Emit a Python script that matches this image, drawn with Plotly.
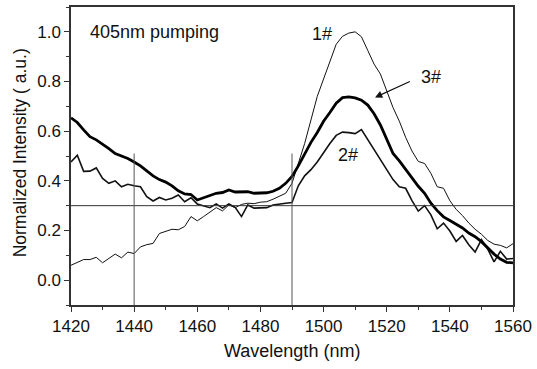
import plotly.graph_objects as go

wavelength = list(range(1420, 1562, 2))

s1 = [0.060, 0.070, 0.083, 0.083, 0.092, 0.070, 0.088, 0.105, 0.090, 0.113,
      0.107, 0.134, 0.143, 0.148, 0.188, 0.196, 0.205, 0.203, 0.216, 0.256,
      0.239, 0.256, 0.273, 0.292, 0.279, 0.303, 0.292, 0.305, 0.310, 0.308,
      0.314, 0.316, 0.326, 0.338, 0.350, 0.390, 0.470, 0.550, 0.645, 0.740,
      0.810, 0.880, 0.950, 0.982, 0.995, 1.000, 0.980, 0.925, 0.870, 0.830,
      0.760, 0.695, 0.640, 0.575, 0.520, 0.478, 0.470, 0.430, 0.376, 0.370,
      0.320, 0.285, 0.260, 0.230, 0.205, 0.185, 0.160, 0.145, 0.140, 0.130,
      0.147]

s2 = [0.476, 0.503, 0.438, 0.439, 0.452, 0.410, 0.390, 0.400, 0.376, 0.386,
      0.380, 0.376, 0.336, 0.319, 0.333, 0.323, 0.330, 0.343, 0.316, 0.332,
      0.307, 0.300, 0.292, 0.307, 0.290, 0.307, 0.293, 0.256, 0.303, 0.290,
      0.290, 0.292, 0.303, 0.308, 0.310, 0.313, 0.380, 0.420, 0.445, 0.476,
      0.515, 0.550, 0.583, 0.596, 0.594, 0.590, 0.606, 0.565, 0.523, 0.485,
      0.443, 0.405, 0.376, 0.370, 0.320, 0.278, 0.300, 0.263, 0.207, 0.230,
      0.198, 0.156, 0.180, 0.143, 0.113, 0.163, 0.125, 0.074, 0.116, 0.085,
      0.087]

s3 = [0.654, 0.635, 0.605, 0.578, 0.565, 0.548, 0.530, 0.510, 0.500, 0.490,
      0.476, 0.460, 0.440, 0.420, 0.405, 0.395, 0.380, 0.360, 0.347, 0.345,
      0.323, 0.332, 0.342, 0.350, 0.353, 0.363, 0.355, 0.357, 0.356, 0.350,
      0.352, 0.352, 0.358, 0.370, 0.390, 0.418, 0.460, 0.510, 0.555, 0.595,
      0.640, 0.675, 0.713, 0.735, 0.738, 0.734, 0.725, 0.705, 0.670, 0.625,
      0.570, 0.510, 0.480, 0.445, 0.410, 0.378, 0.350, 0.310, 0.280, 0.255,
      0.240, 0.225, 0.210, 0.190, 0.175, 0.155, 0.130, 0.105, 0.085, 0.072,
      0.070]

hline_y = 0.3
vlines_x = [1440, 1490]
vline_top = 0.51

FONT = "Liberation Sans, Arial, sans-serif"

fig = go.Figure()
fig.add_trace(go.Scatter(x=wavelength, y=s1, mode="lines",
                         line=dict(color="#111", width=1), name="1#"))
fig.add_trace(go.Scatter(x=wavelength, y=s2, mode="lines",
                         line=dict(color="#111", width=1.6), name="2#"))
fig.add_trace(go.Scatter(x=wavelength, y=s3, mode="lines",
                         line=dict(color="#000", width=2.8), name="3#"))

fig.add_shape(type="line", xref="x", yref="y", x0=1420, x1=1560,
              y0=hline_y, y1=hline_y, line=dict(color="#333", width=1))
for vx in vlines_x:
    fig.add_shape(type="line", xref="x", yref="y", x0=vx, x1=vx,
                  y0=-0.1, y1=vline_top, line=dict(color="#555", width=1))

anns = [
    dict(x=1446.4, y=1.0, text="405nm pumping", showarrow=False,
         xref="x", yref="y", font=dict(size=18)),
    dict(x=1499.6, y=0.99, text="1#", showarrow=False, xref="x", yref="y",
         font=dict(size=18)),
    dict(x=1507.8, y=0.503, text="2#", showarrow=False, xref="x", yref="y",
         font=dict(size=18)),
    dict(x=1534.1, y=0.817, text="3#", showarrow=False, xref="x", yref="y",
         font=dict(size=18)),
    dict(x=1516.3, y=0.736, ax=1527.8, ay=0.803, xref="x", yref="y",
         axref="x", ayref="y", text="", showarrow=True, arrowhead=2,
         arrowsize=1.2, arrowwidth=1.2, arrowcolor="#111"),
    dict(x=0.5, y=-0.155, xref="paper", yref="paper", text="Wavelength (nm)",
         xanchor="center", yanchor="middle",
         showarrow=False, font=dict(size=18)),
    dict(x=-0.1146, y=0.51, xref="paper", yref="paper",
         text="Normalized Intensity ( a.u.)", textangle=-90,
         xanchor="center", yanchor="middle",
         showarrow=False, font=dict(size=17.5)),
]

fig.update_layout(
    width=537, height=369,
    margin=dict(l=71, r=21, t=5, b=63.5),
    paper_bgcolor="white", plot_bgcolor="white",
    showlegend=False,
    font=dict(family=FONT, size=17, color="#111"),
    annotations=anns,
    xaxis=dict(range=[1420, 1560], tick0=1420, dtick=20, ticks="outside",
               ticklen=5, tickwidth=1.2, tickcolor="#333",
               showline=True, linecolor="#333", linewidth=1.5, mirror=True,
               showgrid=False, zeroline=False,
               minor=dict(dtick=10, ticks="outside", ticklen=3,
                          tickcolor="#333", showgrid=False),
               tickfont=dict(size=17)),
    yaxis=dict(range=[-0.1, 1.1], tick0=0, dtick=0.2, ticks="outside",
               ticklen=5, tickwidth=1.2, tickcolor="#333", tickformat=".1f",
               showline=True, linecolor="#333", linewidth=1.5, mirror=True,
               showgrid=False, zeroline=False,
               minor=dict(dtick=0.1, ticks="outside", ticklen=3,
                          tickcolor="#333", showgrid=False),
               tickfont=dict(size=17)),
)

fig.write_html("out.html")
